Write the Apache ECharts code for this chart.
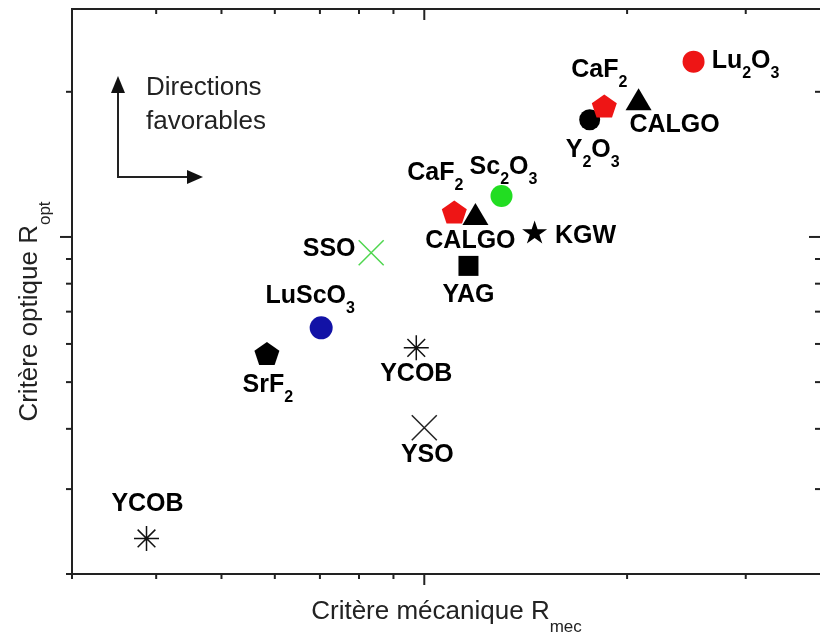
<!DOCTYPE html>
<html><head><meta charset="utf-8">
<script src="https://cdn.jsdelivr.net/npm/echarts@6/dist/echarts.min.js"></script>
<style>html,body{margin:0;padding:0;background:#fff}#c{width:820px;height:635px}</style>
</head><body><div id="c"></div>
<script>
// ---- data ----
const materials = ['YCOB','SrF_2','LuScO_3','SSO','YCOB','YSO','YAG','CaF_2','CALGO','Sc_2O_3','KGW','Y_2O_3','CaF_2','CALGO','Lu_2O_3'];
const rMec = [3.87, 5.84, 7.03, 8.34, 9.73, 10.0, 11.63, 11.08, 11.91, 13.02, 14.58, 17.6, 18.5, 20.8, 25.1];
const rOpt = [2.37, 5.73, 6.48, 9.27, 5.89, 4.02, 8.71, 11.27, 11.16, 12.16, 10.24, 17.5, 18.7, 19.3, 23.1];
const xTickValues = [3, 4, 5, 6, 7, 8, 9, 10, 20, 30];
const yTickValues = [2, 3, 4, 5, 6, 7, 8, 9, 10, 20];
const majorTicks = [10];
const X_MIN = 3, X_MAX = 38.8, Y_MIN = 2, Y_MAX = 29.7;

// ---- styles ----
const FONT = "'Liberation Sans', Arial, sans-serif";
const PENT = 'path://M50 0 L97.6 34.5 L79.4 90.5 L20.6 90.5 L2.4 34.5 Z';
const STAR = 'path://M50 0 L61.23 34.55 L97.55 34.55 L68.17 55.9 L79.39 90.45 L50 69.1 L20.61 90.45 L31.83 55.9 L2.45 34.55 L38.77 34.55 Z';
const ASTER = 'path://M12 0 L12 24 M0 12 L24 12 M3.5 3.5 L20.5 20.5 M20.5 3.5 L3.5 20.5';
const XMARK = 'path://M0 0 L24 24 M24 0 L0 24';
const RED = '#ee1515', BLK = '#000000';
const markerStyle = [
  {symbol: ASTER, size: 25, stroke: '#111'},
  {symbol: PENT, size: [25, 23], fill: BLK},
  {symbol: 'circle', size: 23, fill: '#1212a6'},
  {symbol: XMARK, size: 25, stroke: '#4fd64f'},
  {symbol: ASTER, size: 25, stroke: '#111'},
  {symbol: XMARK, size: 25, stroke: '#222'},
  {symbol: 'rect', size: 20, fill: BLK},
  {symbol: PENT, size: [25, 23], fill: RED},
  {symbol: 'triangle', size: [26, 22], fill: BLK},
  {symbol: 'circle', size: 22, fill: '#22dd22'},
  {symbol: STAR, size: [25, 23], fill: BLK},
  {symbol: 'circle', size: 21, fill: BLK},
  {symbol: PENT, size: [25, 23], fill: RED},
  {symbol: 'triangle', size: [26, 22], fill: BLK},
  {symbol: 'circle', size: 22, fill: RED}
];
const labelOffset = [[1,-34],[1,32],[-11,-32],[-42,-4],[0,26],[3,27],[0,29],[-19,-39],[-5,27],[2,-29],[51,4],[3,30],[-5,-36],[36,26],[52,-1]];

function toRich(s) {
  return s.split(/_(\d)/).map((p, i) => p === '' ? '' : (i % 2 ? '{s|' + p + '}' : '{b|' + p + '}')).join('');
}
const labelRich = {
  b: {fontSize: 25, fontWeight: 'bold', fontFamily: FONT, color: '#000', lineHeight: 27},
  s: {fontSize: 16, fontWeight: 'bold', fontFamily: FONT, color: '#000', lineHeight: 27, padding: [25, 0, 0, 0]}
};

const pointData = materials.map((m, i) => {
  const st = markerStyle[i];
  return {
    name: m,
    value: [rMec[i], rOpt[i]],
    symbol: st.symbol,
    symbolSize: st.size,
    itemStyle: st.stroke ? {color: 'rgba(0,0,0,0)', borderColor: st.stroke, borderWidth: 1.5, opacity: 1}
                         : {color: st.fill, borderWidth: 0, opacity: 1},
    label: {show: true, position: 'inside', offset: labelOffset[i], formatter: toRich(m), rich: labelRich, opacity: 1}
  };
});

const tickStyle = {stroke: '#222', lineWidth: 2};
const xTickSeries = {
  type: 'custom', silent: true, clip: false, z: 5,
  data: xTickValues.map(v => [v, Y_MIN]),
  renderItem: (params, api) => {
    const v = api.value(0);
    const b = api.coord([v, Y_MIN]), t = api.coord([v, Y_MAX]);
    const len = majorTicks.includes(v) ? 11 : 5;
    return {type: 'group', children: [
      {type: 'line', shape: {x1: b[0], y1: b[1], x2: b[0], y2: b[1] + len}, style: tickStyle},
      {type: 'line', shape: {x1: t[0], y1: t[1], x2: t[0], y2: t[1] + len}, style: tickStyle}
    ]};
  }
};
const yTickSeries = {
  type: 'custom', silent: true, clip: false, z: 5,
  data: yTickValues.map(v => [X_MIN, v]),
  renderItem: (params, api) => {
    const v = api.value(1);
    const l = api.coord([X_MIN, v]), r = api.coord([X_MAX, v]);
    const len = majorTicks.includes(v) ? 12 : 6;
    return {type: 'group', children: [
      {type: 'line', shape: {x1: l[0] - len, y1: l[1], x2: l[0], y2: l[1]}, style: tickStyle},
      {type: 'line', shape: {x1: r[0] - len, y1: r[1], x2: r[0], y2: r[1]}, style: tickStyle}
    ]};
  }
};

const chart = echarts.init(document.getElementById('c'), null, {renderer: 'canvas'});
chart.setOption({
  animation: false,
  backgroundColor: '#fff',
  grid: {left: 72, top: 9, width: 749, height: 565, outerBoundsMode: 'none', containLabel: false,
         show: true, borderColor: '#222', borderWidth: 2, backgroundColor: 'transparent'},
  xAxis: {
    type: 'log', logBase: 10, min: X_MIN, max: X_MAX,
    axisLine: {show: false}, axisTick: {show: false}, axisLabel: {show: false}, splitLine: {show: false},
    name: '{a|Critère mécanique R}{s|mec}', nameLocation: 'middle', nameGap: 24,
    nameTextStyle: {rich: {
      a: {fontSize: 26, fontFamily: FONT, color: '#222', lineHeight: 28},
      s: {fontSize: 17, fontFamily: FONT, color: '#222', lineHeight: 28, padding: [30, 0, 0, 0]}
    }}
  },
  yAxis: {
    type: 'log', logBase: 10, min: Y_MIN, max: Y_MAX,
    axisLine: {show: false}, axisTick: {show: false}, axisLabel: {show: false}, splitLine: {show: false},
    name: '{a|Critère optique R}{s|opt}', nameLocation: 'middle', nameGap: 28,
    nameTextStyle: {padding: [0, 40, 0, 0], rich: {
      a: {fontSize: 26, fontFamily: FONT, color: '#222', lineHeight: 28},
      s: {fontSize: 17, fontFamily: FONT, color: '#222', lineHeight: 28, padding: [30, 0, 0, 0]}
    }}
  },
  graphic: [
    {type: 'text', x: 146, y: 88, style: {text: 'Directions', font: '26px ' + FONT, fill: '#222', verticalAlign: 'middle'}},
    {type: 'text', x: 146, y: 122, style: {text: 'favorables', font: '26px ' + FONT, fill: '#222', verticalAlign: 'middle'}},
    {type: 'polyline', shape: {points: [[118, 90], [118, 177], [190, 177]]}, style: {stroke: '#222', lineWidth: 2, fill: null}},
    {type: 'polygon', shape: {points: [[118, 76], [111, 93], [125, 93]]}, style: {fill: '#111'}},
    {type: 'polygon', shape: {points: [[203, 177], [187, 170], [187, 184]]}, style: {fill: '#111'}}
  ],
  series: [
    {type: 'scatter', z: 3, data: pointData, emphasis: {disabled: true}},
    xTickSeries,
    yTickSeries
  ]
});
</script>
</body></html>
